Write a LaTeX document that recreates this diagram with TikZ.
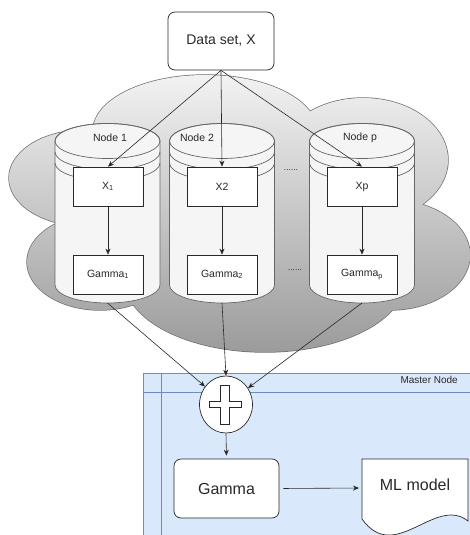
\documentclass[tikz,border=0pt]{standalone}
\usepackage{fontspec}
\setmainfont{Liberation Sans}
\usetikzlibrary{arrows.meta,shapes.geometric}
\definecolor{cloudtop}{RGB}{242,242,242}
\definecolor{cloudbot}{RGB}{155,155,155}
\definecolor{cloudline}{RGB}{110,110,110}
\definecolor{cylfill}{RGB}{245,245,245}
\definecolor{cylline}{RGB}{102,102,102}
\definecolor{poolfill}{RGB}{218,232,252}
\definecolor{poolline}{RGB}{108,142,191}
\definecolor{ink}{RGB}{40,40,40}
\tikzset{
  smallbox/.style={draw=ink, fill=white, line width=0.7pt, minimum width=70pt, minimum height=39pt, inner sep=0pt, text=ink, font=\fontsize{10.5}{12}\selectfont},
  bigbox/.style={draw=ink, fill=white, line width=0.7pt, rounded corners=7pt, inner sep=0pt, text=ink},
  arr/.style={-{Stealth[length=6pt,width=5pt]}, line width=0.6pt, draw=ink},
  cyl/.style={draw=cylline, fill=cylfill, line width=0.7pt},
  cylarc/.style={draw=cylline, line width=0.7pt},
  dots/.style={inner sep=0pt, text=ink, font=\fontsize{8.5}{10}\selectfont},
}
\begin{document}
\begin{tikzpicture}[x=1pt,y=1pt]
\useasboundingbox (0,0) rectangle (470,-535);

% ---------- cloud ----------
\begin{scope}
\draw[cloudline, line width=1.4pt]
  (85,-178) ellipse[x radius=76, y radius=48]
  (205,-131) ellipse[x radius=112, y radius=56]
  (363,-160) ellipse[x radius=85, y radius=62]
  (390,-255) ellipse[x radius=80, y radius=55]
  (265,-280) ellipse[x radius=140, y radius=72]
  (100,-262) ellipse[x radius=73, y radius=48];
\end{scope}
\begin{scope}
\clip
  (85,-178) ellipse[x radius=76, y radius=48]
  (205,-131) ellipse[x radius=112, y radius=56]
  (363,-160) ellipse[x radius=85, y radius=62]
  (390,-255) ellipse[x radius=80, y radius=55]
  (265,-280) ellipse[x radius=140, y radius=72]
  (100,-262) ellipse[x radius=73, y radius=48]
  (240,-215) ellipse[x radius=180, y radius=100];
\shade[top color=cloudtop, bottom color=cloudbot] (0,-75) rectangle (470,-352);
\end{scope}

% ---------- cylinders ----------
\foreach \cx/\lx/\lab/\i in {107.5/110/Node 1/1, 222/197/Node 2/2, 362/360/Node p/p}{
  \filldraw[cyl] (\cx-52.5,-141) -- (\cx-52.5,-285)
     arc[start angle=180, end angle=360, x radius=52.5, y radius=18]
     -- (\cx+52.5,-141)
     arc[start angle=0, end angle=180, x radius=52.5, y radius=17.5] -- cycle;
  \draw[cylarc] (\cx,-141) ellipse[x radius=52.5, y radius=17.5];
  \draw[cylarc] (\cx-52.5,-152) arc[start angle=180, end angle=360, x radius=52.5, y radius=17.5];
  \draw[cylarc] (\cx-52.5,-163) arc[start angle=180, end angle=360, x radius=52.5, y radius=17.5];
  \node[inner sep=0pt, text=ink, font=\fontsize{10.5}{12}\selectfont] (lab\i) at (\lx,-138) {\lab};
  \coordinate (cb\i) at (\cx,-303);
}

% ---------- boxes in nodes ----------
\node[smallbox] (x1) at (108,-186.5) {X\textsubscript{1}};
\node[smallbox] (x2) at (222,-186.5) {X2};
\node[smallbox] (xp) at (362,-186.5) {Xp};
\node[smallbox] (g1) at (108,-274.5) {Gamma\textsubscript{1}};
\node[smallbox] (g2) at (222,-274.5) {Gamma\textsubscript{2}};
\node[smallbox] (gp) at (362,-274.5) {Gamma\textsubscript{p}};
\node[dots] (d1) at (291,-170) {......};
\node[dots] (d2) at (295,-270) {......};

\draw[arr] (x1) -- (g1);
\draw[arr] (x2) -- (g2);
\draw[arr] (xp) -- (gp);

% ---------- data set ----------
\node[bigbox, minimum width=106pt, minimum height=58pt, font=\fontsize{14}{16}\selectfont] (ds) at (221,-41) {Data set, X};
\draw[arr] (ds.south) -- (x1.north);
\draw[arr] (ds.south) -- (x2.north);
\draw[arr] (ds.south) -- (xp.north);

% ---------- master node pool ----------
\fill[poolfill] (143,-373) rectangle (480,-545);
\draw[poolline, line width=0.7pt] (143,-545) -- (143,-373) -- (480,-373);
\draw[poolline, line width=0.7pt] (161,-373) -- (161,-545);
\draw[poolline, line width=0.7pt] (143,-392) -- (480,-392);
\node[anchor=east, inner sep=0pt, text=ink, font=\fontsize{10}{11}\selectfont] (mn) at (458,-380) {Master Node};

% ---------- sum ----------
\node[ellipse, draw=ink, fill=white, line width=0.7pt, minimum width=53pt, minimum height=57pt, inner sep=0pt] (sum) at (226,-404.5) {};
\draw[ink, fill=white, line width=0.7pt, shift={(sum.center)}]
  (-5.5,19.5) -- (3.5,19.5) -- (3.5,3) -- (15,3) -- (15,-3) -- (3.5,-3)
  -- (3.5,-19.5) -- (-5.5,-19.5) -- (-5.5,-3) -- (-17,-3) -- (-17,3) -- (-5.5,3) -- cycle;

\draw[arr] (cb1) -- (sum);
\draw[arr] (cb2) -- (sum.north);
\draw[arr] (cbp) -- (sum);

% ---------- gamma & ML model ----------
\node[bigbox, minimum width=105pt, minimum height=59pt, font=\fontsize{16}{18}\selectfont] (gm) at (226.5,-488.5) {Gamma};
\draw[arr, shorten >=3pt] (sum.south) -- (gm.north);

\draw[ink, fill=white, line width=0.7pt]
  (362,-459) -- (468,-459) -- (468,-521)
  .. controls (435,-495) and (395,-565) .. (362,-519) -- cycle;
\node[inner sep=0pt, text=ink, font=\fontsize{16}{18}\selectfont] (ml) at (415,-485) {ML model};
\coordinate (mlin) at (362,-488);
\draw[arr, shorten <=4pt, shorten >=3pt] (gm.east) -- (mlin);
\end{tikzpicture}
\end{document}
